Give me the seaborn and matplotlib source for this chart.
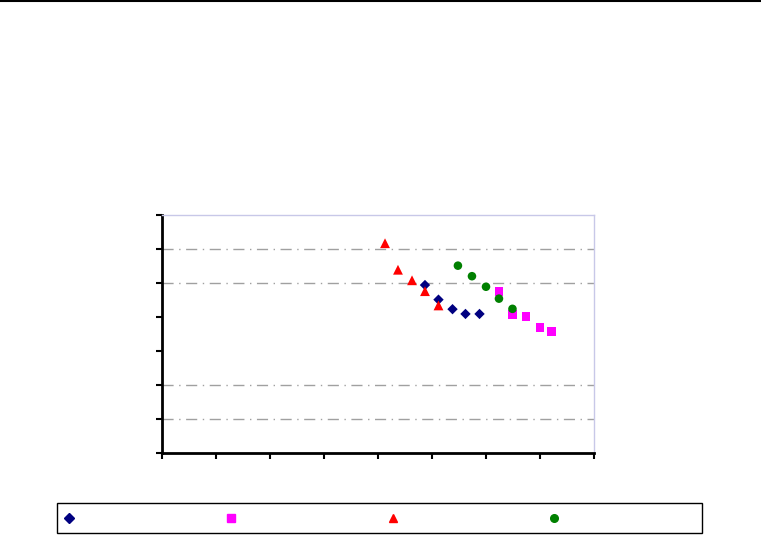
import matplotlib
matplotlib.use("Agg")
import matplotlib.pyplot as plt
from matplotlib.lines import Line2D
from matplotlib.patches import Rectangle
import seaborn as sns
import pandas as pd

series_names = ["A", "B", "C", "D"]
x_a = [4.87, 5.12, 5.38, 5.62, 5.88]
y_a = [4.94, 4.51, 4.23, 4.09, 4.09]
x_b = [6.24, 6.49, 6.74, 7.00, 7.22]
y_b = [4.76, 4.08, 4.02, 3.70, 3.58]
x_c = [4.13, 4.37, 4.63, 4.87, 5.12]
y_c = [6.17, 5.39, 5.08, 4.76, 4.34]
x_d = [5.48, 5.74, 6.00, 6.24, 6.49]
y_d = [5.51, 5.20, 4.89, 4.54, 4.24]
grid_levels = [1, 2, 5, 6]

colors = {"A": "#000080", "B": "#FF00FF", "C": "#FF0000", "D": "#008000"}
markers = {"A": "D", "B": "s", "C": "^", "D": "o"}
sizes = {"A": 28, "B": 40, "C": 50, "D": 38}

frames = []
for name, xs, ys in zip(series_names, [x_a, x_b, x_c, x_d], [y_a, y_b, y_c, y_d]):
    frames.append(pd.DataFrame({"x": xs, "y": ys, "s": name}))
df = pd.concat(frames, ignore_index=True)

sns.set_style("white")
fig = plt.figure(figsize=(7.61, 5.36), dpi=100)
ax = fig.add_axes([162/761, 1-453/536, (594-162)/761, (453-215)/536])

for name in series_names:
    sub = df[df["s"] == name]
    sns.scatterplot(data=sub, x="x", y="y", color=colors[name], marker=markers[name],
                    s=sizes[name], edgecolor="none", linewidth=0, ax=ax, legend=False, zorder=3)

for g in grid_levels:
    ax.axhline(g, color="#a0a0a0", linewidth=1, linestyle=(0, (8, 4, 1, 4)), zorder=1)

ax.set_xlim(0, 8)
ax.set_ylim(0, 7)
ax.set_xticks(range(0, 9))
ax.set_yticks(range(0, 8))
ax.set_xticklabels([])
ax.set_yticklabels([])
ax.set_xlabel("")
ax.set_ylabel("")
ax.tick_params(axis="both", direction="out", length=4, width=1.5, color="black",
               bottom=True, left=True)
for side in ["left", "bottom"]:
    ax.spines[side].set_color("black")
    ax.spines[side].set_linewidth(2)
for side in ["top", "right"]:
    ax.spines[side].set_color("#c8c8e8")
    ax.spines[side].set_linewidth(1)
ax.spines["top"].set_visible(True)
ax.spines["right"].set_visible(True)

# legend frame
fig.add_artist(Rectangle((57/761, 1-533/536), (702-57)/761, 30/536,
                         transform=fig.transFigure, fill=False,
                         edgecolor="black", linewidth=1))

handles = [Line2D([], [], linestyle="none", marker=markers[n], color=colors[n],
                  markersize=5.5 if n != "A" else 5) for n in series_names]
leg = fig.legend(handles, [""] * 4, ncol=4, fontsize=10,
                 bbox_to_anchor=(62/761, 1-519/536), loc="center left",
                 frameon=False, borderaxespad=0, borderpad=0,
                 handlelength=1, handletextpad=0, columnspacing=10.65)

fig.add_artist(Line2D([0, 1], [1 - 1/536, 1 - 1/536], color="black", linewidth=1.5,
                      transform=fig.transFigure))

fig.savefig("out.png", dpi=100)
